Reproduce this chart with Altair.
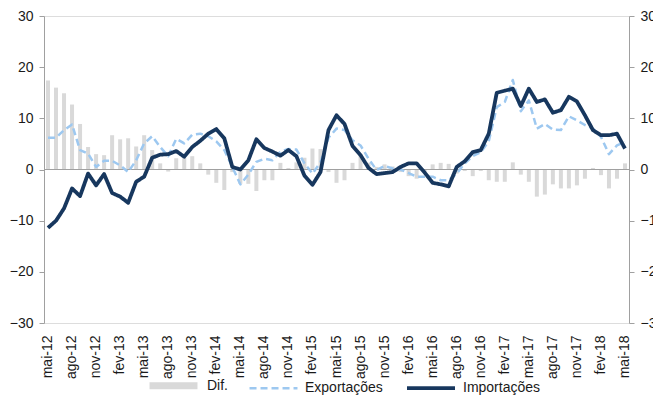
import altair as alt
import pandas as pd

# ---- categories -------------------------------------------------------
nomes = ["jan", "fev", "mar", "abr", "mai", "jun", "jul", "ago", "set", "out", "nov", "dez"]
meses = [f"{nomes[(4 + k) % 12]}-{12 + (4 + k) // 12}" for k in range(73)]  # mai-12 ... mai-18
rotulos = meses[::3]

series = ["Dif.", "Exportações", "Importações"]
cores = ["#D9D9D9", "#9DC8F0", "#17375E"]

# ---- values ------------------------------------------------------------
dif = [17.4, 16.0, 14.9, 12.7, 8.9, 4.4, 3.0, 2.8, 6.7, 5.9,
       6.1, 4.5, 6.7, 3.8, 1.2, -0.4, 2.2, 2.3, 2.6, 1.2,
       -1.0, -2.6, -4.0, -0.5, -2.8, -2.8, -4.2, -2.1, -2.1, 1.3,
       0.3, 1.4, 2.3, 4.1, 4.0, -0.5, -2.6, -2.1, 1.3, 3.0,
       1.3, 0.5, 1.0, 0.6, -0.5, -1.3, -1.8, -0.5, 1.0, 1.3,
       1.1, -0.8, -0.3, -1.3, -0.3, -2.1, -2.4, -2.4, 1.4, -1.0,
       -2.4, -5.3, -4.9, -2.9, -3.7, -3.7, -3.1, -1.8, 0.3, -1.1,
       -3.7, -1.8, 1.2]

exportacoes = [6.2, 6.2, 7.7, 8.8, 3.8, 3.1, 0.5, 1.7, 1.7, 0.8,
               -0.5, 1.8, 5.1, 6.5, 4.4, 2.6, 6.0, 5.1, 6.8, 7.0,
               6.5, 5.5, 3.8, 0.5, -2.9, -1.0, 1.5, 2.1, 1.8, 3.5,
               4.0, 3.9, 1.2, -0.8, 1.4, 6.2, 8.0, 7.7, 5.7, 4.7,
               2.1, -0.1, 0.7, 0.2, 0.0, -0.7, -1.4, -1.4, -1.4, -2.1,
               -2.1, -0.8, 1.2, 2.6, 3.4, 5.5, 12.2, 13.2, 17.5, 11.4,
               13.5, 8.0, 8.9, 7.8, 7.7, 10.4, 9.6, 8.7, 8.0, 6.4,
               3.0, 4.7, 5.4]

importacoes = [-11.4, -10.0, -7.6, -3.7, -5.2, -0.8, -3.1, -0.9, -4.6, -5.3,
               -6.5, -2.4, -1.4, 2.3, 2.9, 3.0, 3.6, 2.5, 4.4, 5.6,
               7.0, 7.9, 6.1, 0.5, 0.0, 1.8, 5.9, 4.2, 3.5, 2.7,
               3.8, 2.6, -1.2, -3.0, -0.5, 7.7, 10.6, 8.9, 4.6, 2.8,
               0.3, -0.9, -0.7, -0.5, 0.5, 1.2, 1.2, -0.6, -2.6, -2.9,
               -3.3, 0.5, 1.6, 3.4, 3.8, 7.0, 15.0, 15.4, 15.8, 12.4,
               15.8, 13.2, 13.7, 11.1, 11.6, 14.2, 13.3, 10.6, 7.7, 6.7,
               6.7, 7.0, 4.1]

valores_y = [-30, -20, -10, 0, 10, 20, 30]

# ---- tables -------------------------------------------------------------
df_bar = pd.DataFrame({"mes": meses, "valor": dif, "serie": "Dif."})
df_lin = pd.concat([
    pd.DataFrame({"mes": meses, "valor": exportacoes, "serie": "Exportações"}),
    pd.DataFrame({"mes": meses, "valor": importacoes, "serie": "Importações"}),
])
df_zero = pd.DataFrame({"v": [0]})

FONT = "Liberation Sans"

x_enc = alt.X(
    "mes:N", sort=meses, title=None,
    scale=alt.Scale(type="band", domain=meses, paddingInner=0, paddingOuter=0),
    axis=alt.Axis(values=rotulos, labelAngle=-90, ticks=False, tickSize=0, domain=False,
                  labelPadding=12, labelFontSize=14, labelFont=FONT, labelColor="#1a1a1a",
                  labelOverlap=False, grid=False),
)
y_scale = alt.Scale(domain=[-30, 30], nice=False, zero=False)


def y_axis(orient):
    return alt.Axis(orient=orient, values=valores_y, grid=False, domainColor="#a0a0a0",
                    tickColor="#a0a0a0", tickSize=5, labelPadding=6, labelFontSize=14,
                    labelFont=FONT, labelColor="#1a1a1a", labelFlush=False)


leg = alt.Legend(orient="none", legendX=102, legendY=342, direction="horizontal",
                 symbolType="stroke", symbolSize=2300, labelFontSize=14, labelFont=FONT,
                 labelColor="#1a1a1a", labelOffset=6, columnPadding=16)

barras = alt.Chart(df_bar).mark_bar(size=4).encode(
    x=x_enc,
    y=alt.Y("valor:Q", scale=y_scale, title=None, axis=y_axis("left")),
    fill=alt.Fill("serie:N", scale=alt.Scale(domain=series, range=cores), legend=leg, title=None),
)

zero = alt.Chart(df_zero).mark_rule(color="#a0a0a0", strokeWidth=1).encode(
    y=alt.Y("v:Q", scale=y_scale, axis=None)
)

linhas = alt.Chart(df_lin).mark_line(strokeJoin="round").encode(
    x=x_enc,
    y=alt.Y("valor:Q", scale=y_scale, title=None, axis=y_axis("right")),
    stroke=alt.Stroke("serie:N", scale=alt.Scale(domain=series, range=cores), legend=leg, title=None),
    strokeDash=alt.StrokeDash("serie:N", scale=alt.Scale(domain=series, range=[[1, 0], [7, 4], [1, 0]]),
                              legend=leg, title=None),
    strokeWidth=alt.StrokeWidth("serie:N", scale=alt.Scale(type="ordinal", domain=series, range=[7, 2.5, 3.8]),
                                legend=leg, title=None),
)

chart = alt.layer(barras, zero, linhas).resolve_axis(y="independent").properties(
    width=585, height=307,
    autosize=alt.AutoSizeParams(type="none"),
    padding={"left": 36, "top": 8, "right": 24, "bottom": 74},
).configure_view(stroke=None).configure(background="white")

chart.save("out.html", embed_options={"renderer": "svg", "actions": False})
